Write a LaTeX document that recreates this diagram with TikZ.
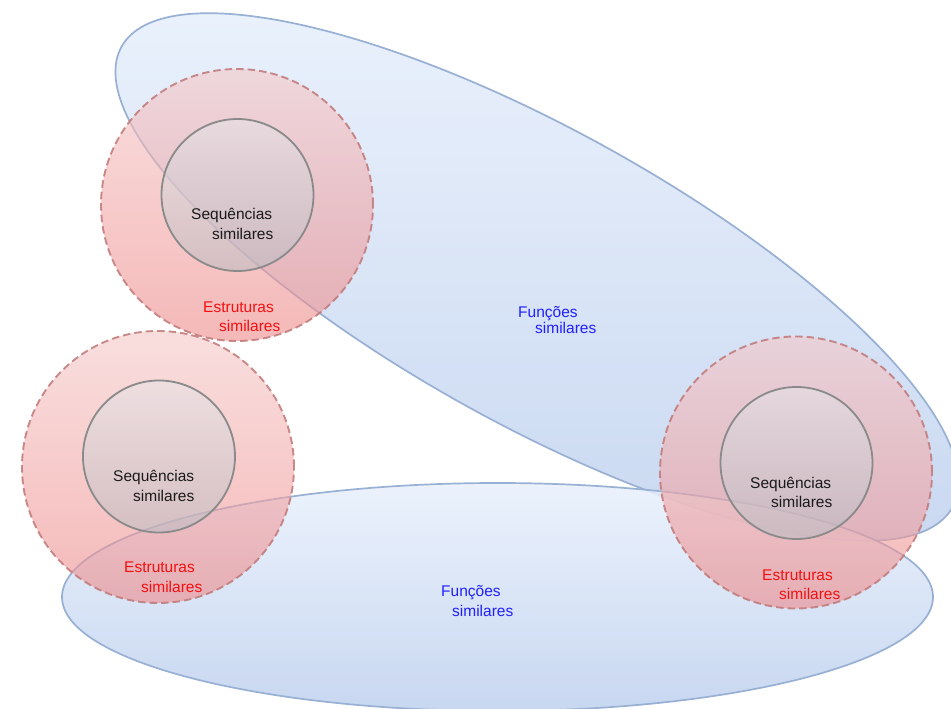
\documentclass[tikz,border=0pt]{standalone}
\usepackage{fontspec}
\setmainfont{Liberation Sans}
\usetikzlibrary{shapes.geometric}
\definecolor{blueTop}{HTML}{E8F0FC}
\definecolor{blueBot}{HTML}{BED0EE}
\definecolor{blueEdge}{HTML}{98B0D4}
\definecolor{redTop}{HTML}{F5C8C8}
\definecolor{redBot}{HTML}{EE8989}
\definecolor{redEdge}{HTML}{C07878}
\definecolor{grayTop}{HTML}{E4E6EA}
\definecolor{grayBot}{HTML}{B4BCC2}
\definecolor{grayEdge}{HTML}{8A8A8A}
\definecolor{seqText}{HTML}{1A1A1A}
\definecolor{estText}{HTML}{F41010}
\definecolor{funText}{HTML}{2020FF}
\begin{document}
\begin{tikzpicture}[x=1pt,y=-1pt,
  funcell/.style={ellipse, draw=blueEdge, line width=1.7pt, top color=blueTop, bottom color=blueBot, fill opacity=0.85, inner sep=0pt},
  strucircle/.style={circle, draw=redEdge, draw opacity=0.85, dash pattern=on 7.5pt off 4pt, line width=1.9pt, top color=redTop, bottom color=redBot, fill opacity=0.6, minimum size=272pt, inner sep=0pt},
  seqcircle/.style={circle, draw=grayEdge, line width=1.8pt, top color=grayTop, bottom color=grayBot, fill opacity=0.5, minimum size=152pt, inner sep=0pt},
  lbl/.style={anchor=base west, inner sep=0pt, font=\fontsize{15.5}{18}\selectfont},
  seqlbl/.style={lbl, text=seqText},
  estlbl/.style={lbl, text=estText},
  funlbl/.style={lbl, text=funText}]
\useasboundingbox (0,0) rectangle (951,709);
% function ellipses
\node[funcell, minimum width=950pt, minimum height=294pt, rotate=-29] (fa) at (537,277) {};
\node[funcell, minimum width=871pt, minimum height=228pt] (fb) at (497.5,597) {};
% structure circles
\node[strucircle] (s1) at (237,205) {};
\node[strucircle] (s2) at (158,467) {};
\node[strucircle] (s3) at (796,472.5) {};
% sequence circles
\node[seqcircle] (q1) at (237.5,195) {};
\node[seqcircle] (q2) at (159,456.5) {};
\node[seqcircle] (q3) at (796.5,463) {};
% labels
\node[seqlbl] (q1a) at (191,219) {Sequências};
\node[seqlbl] (q1b) at (212,239) {similares};
\node[estlbl] (s1a) at (203,312) {Estruturas};
\node[estlbl] (s1b) at (219,331) {similares};
\node[seqlbl] (q2a) at (113,481) {Sequências};
\node[seqlbl] (q2b) at (133,501) {similares};
\node[estlbl] (s2a) at (124,572) {Estruturas};
\node[estlbl] (s2b) at (141,592) {similares};
\node[seqlbl] (q3a) at (750,488) {Sequências};
\node[seqlbl] (q3b) at (771,507) {similares};
\node[estlbl] (s3a) at (762,580) {Estruturas};
\node[estlbl] (s3b) at (779,599) {similares};
\node[funlbl] (fa1) at (518,317) {Funções};
\node[funlbl] (fa2) at (535,333) {similares};
\node[funlbl] (fb1) at (441,596) {Funções};
\node[funlbl] (fb2) at (452,616) {similares};
\end{tikzpicture}
\end{document}
